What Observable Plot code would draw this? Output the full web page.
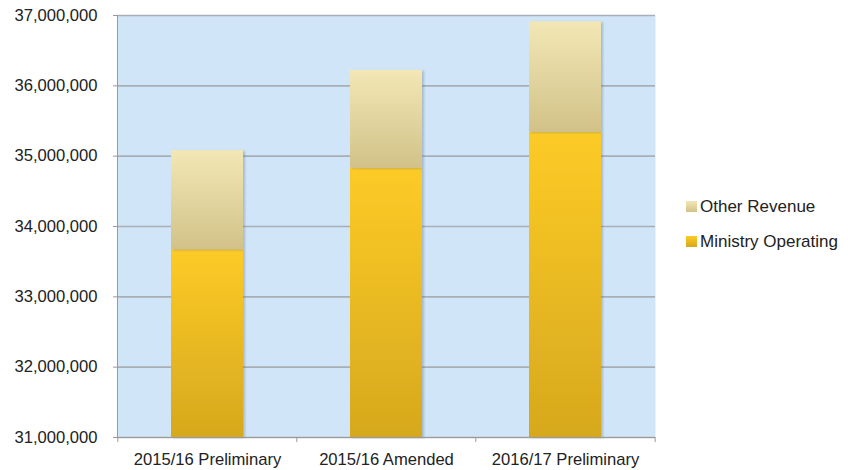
<!DOCTYPE html>
<html>
<head>
<meta charset="utf-8">
<script src="https://cdn.jsdelivr.net/npm/d3@7"></script>
<script src="https://cdn.jsdelivr.net/npm/@observablehq/plot@0.6"></script>
<style>
  html, body { margin: 0; padding: 0; background: #fff; }
  #wrap { position: relative; width: 848px; height: 470px; font-family: "Liberation Sans", Arial, sans-serif; }
  .legend { position: absolute; left: 686px; top: 0; font-size: 17px; color: #222; line-height: 1; }
  .legend .item { position: absolute; left: 0; white-space: nowrap; display: flex; align-items: center; }
  .legend .sw { width: 11px; height: 11px; margin-right: 3px; }
</style>
</head>
<body>
<div id="wrap"></div>
<script>
const categories = ["2015/16 Preliminary", "2015/16 Amended", "2016/17 Preliminary"];
const ministryOperating = [33670000, 34830000, 35340000];
const otherRevenue = [1410000, 1390000, 1570000];
const yTicks = [31000000, 32000000, 33000000, 34000000, 35000000, 36000000, 37000000];
const seriesNames = ["Other Revenue", "Ministry Operating"];

const yMin = yTicks[0], yMax = yTicks[yTicks.length - 1];
const rows = [];
categories.forEach((c, i) => {
  rows.push({cat: c, series: "Ministry Operating", y1: yMin, y2: ministryOperating[i]});
  rows.push({cat: c, series: "Other Revenue", y1: ministryOperating[i], y2: ministryOperating[i] + otherRevenue[i]});
});

const W = 848, H = 470, mL = 117, mR = 193, mT = 15, mB = 33;
const step = (W - mL - mR) / categories.length;
const fontFamily = '"Liberation Sans", Arial, sans-serif';

const chart = Plot.plot({
  width: W, height: H,
  marginLeft: mL, marginRight: mR, marginTop: mT, marginBottom: mB,
  style: {fontFamily, fontSize: "16.6px", color: "#222", background: "transparent"},
  x: {domain: categories, padding: 0.6, paddingOuter: 0.3, label: null},
  y: {domain: [yMin, yMax], label: null},
  marks: [
    Plot.frame({fill: "#D0E5F8", stroke: "none"}),
    Plot.ruleY(yTicks, {stroke: "#A9AEB4", strokeWidth: 1.6}),
    Plot.rectY(rows.filter(d => d.series === "Ministry Operating"), {x: "cat", y1: "y1", y2: "y2", fill: "url(#gMin)"}),
    Plot.rectY(rows.filter(d => d.series === "Other Revenue"), {x: "cat", y1: "y1", y2: "y2", fill: "url(#gOth)"}),
    Plot.ruleY([yMin], {stroke: "#9a9a9a", strokeWidth: 1}),
    Plot.frame({anchor: "left", stroke: "#9a9a9a"}),
    Plot.ruleX(categories, {y1: yMin, y2: yMin, insetBottom: -5, dx: -step / 2, stroke: "#9a9a9a"}),
    Plot.ruleX(categories.slice(-1), {y1: yMin, y2: yMin, insetBottom: -5, dx: step / 2, stroke: "#9a9a9a"}),
    Plot.axisY({ticks: yTicks, tickSize: 4, tickPadding: 16, tickFormat: d3.format(","), stroke: "#9a9a9a"}),
    Plot.axisX({tickSize: 0, tickPadding: 16})
  ]
});

const ns = "http://www.w3.org/2000/svg";
const svg = chart.tagName.toLowerCase() === "svg" ? chart : chart.querySelector("svg");
const defs = document.createElementNS(ns, "defs");
defs.innerHTML = `
  <linearGradient id="gMin" x1="0" y1="0" x2="0" y2="1">
    <stop offset="0" stop-color="#FDCB26"/>
    <stop offset="1" stop-color="#D6A81E"/>
  </linearGradient>
  <linearGradient id="gOth" x1="0" y1="0" x2="0" y2="1">
    <stop offset="0" stop-color="#F2E7B5"/>
    <stop offset="1" stop-color="#D2C289"/>
  </linearGradient>
  <filter id="shadow" x="-10%" y="-10%" width="130%" height="130%">
    <feDropShadow dx="2" dy="1" stdDeviation="1.3" flood-color="#5a6a80" flood-opacity="0.35"/>
  </filter>`;
svg.insertBefore(defs, svg.firstChild);
svg.querySelectorAll("g[aria-label='rect']").forEach(g => g.setAttribute("filter", "url(#shadow)"));

const wrap = document.getElementById("wrap");
wrap.appendChild(chart);

const legend = document.createElement("div");
legend.className = "legend";
const legendTops = [198, 233];
const swatch = {"Other Revenue": "linear-gradient(#F2E7B5, #D2C289)", "Ministry Operating": "linear-gradient(#FDCB26, #D6A81E)"};
seriesNames.forEach((name, i) => {
  const it = document.createElement("div");
  it.className = "item";
  it.style.top = legendTops[i] + "px";
  it.innerHTML = `<span class="sw" style="background:${swatch[name]}"></span><span>${name}</span>`;
  legend.appendChild(it);
});
wrap.appendChild(legend);
</script>
</body>
</html>
